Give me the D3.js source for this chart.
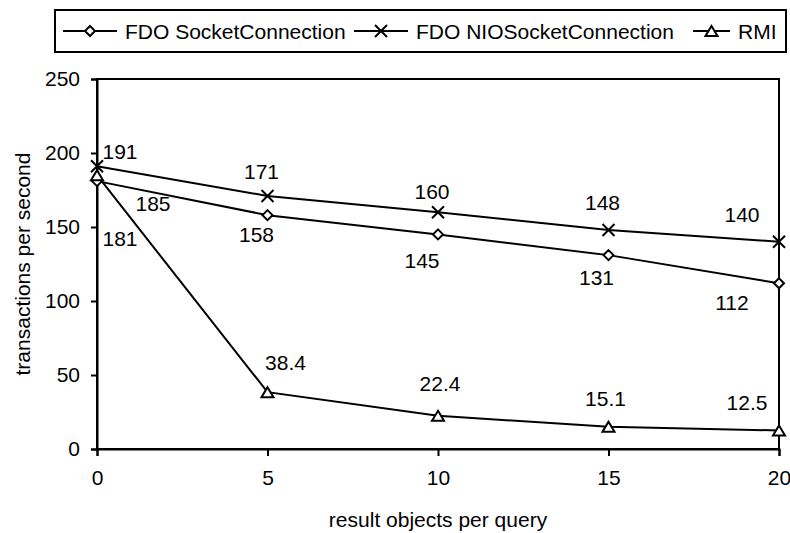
<!DOCTYPE html>
<html>
<head>
<meta charset="utf-8">
<script src="https://cdn.jsdelivr.net/npm/d3@7"></script>
<style>
  body { margin: 0; background: #fff; }
  svg text { font-family: "Liberation Sans", Arial, sans-serif; fill: #000; }
</style>
</head>
<body>
<div id="chart"></div>
<script>
var width = 790;
var height = 533;
var fontSize = 21;

// data
let xValues = [0, 5, 10, 15, 20];
let socketValues = [181, 158, 145, 131, 112];
let nioValues = [191, 171, 160, 148, 140];
let rmiValues = [185, 38.4, 22.4, 15.1, 12.5];
let seriesNames = ["FDO SocketConnection", "FDO NIOSocketConnection", "RMI"];
let yTicks = [0, 50, 100, 150, 200, 250];

// label offsets (px) from each point
let labelOffsets = {
    "FDO SocketConnection": [[23,57],[-11,19],[-16,26],[-12,22],[-47,19]],
    "FDO NIOSocketConnection": [[23,-15],[-6,-24],[-6,-21],[-6,-28],[-37,-27]],
    "RMI": [[56,28],[18,-30],[2,-32],[-3,-28],[-32,-28]]
};

let plot = {left: 97, right: 779, top: 79, bottom: 449};

let x = d3.scaleLinear().domain([0, 20]).range([plot.left, plot.right]);
let y = d3.scaleLinear().domain([0, 250]).range([plot.bottom, plot.top]);

let svg = d3.select("#chart").append("svg")
    .attr("width", width).attr("height", height);

// marker shapes
let markers = {
    "FDO SocketConnection": "M0,-5L5,0L0,5L-5,0Z",
    "FDO NIOSocketConnection": "M-6,-6L6,6M-6,6L6,-6",
    "RMI": "M0,-5L6,5L-6,5Z"
};

let series = [
    {name: seriesNames[0], values: socketValues},
    {name: seriesNames[1], values: nioValues},
    {name: seriesNames[2], values: rmiValues}
];

// plot frame
svg.append("rect")
    .attr("x", plot.left).attr("y", plot.top)
    .attr("width", plot.right - plot.left).attr("height", plot.bottom - plot.top)
    .attr("fill", "none").attr("stroke", "#000").attr("stroke-width", 2);

// axes
let xAxis = svg.append("g").attr("transform", `translate(0,${plot.bottom})`)
    .call(d3.axisBottom(x).tickValues(xValues).tickSize(7).tickPadding(14));
let yAxis = svg.append("g").attr("transform", `translate(${plot.left},0)`)
    .call(d3.axisLeft(y).tickValues(yTicks).tickSize(6).tickPadding(11));

[xAxis, yAxis].forEach(a => {
    a.select(".domain").attr("stroke-width", 2);
    a.selectAll(".tick line").attr("stroke-width", 2);
    a.selectAll(".tick text").attr("font-size", fontSize)
        .attr("font-family", '"Liberation Sans", Arial, sans-serif');
});

// axis titles
svg.append("text")
    .attr("x", (plot.left + plot.right) / 2).attr("y", 527)
    .attr("text-anchor", "middle").attr("font-size", fontSize)
    .text("result objects per query");

svg.append("text")
    .attr("transform", `translate(30,${(plot.top + plot.bottom) / 2}) rotate(-90)`)
    .attr("text-anchor", "middle").attr("font-size", fontSize)
    .text("transactions per second");

// lines
let line = d3.line().x((d, i) => x(xValues[i])).y(d => y(d));

let gSeries = svg.selectAll(".series").data(series)
    .join("g").attr("class", "series");

gSeries.append("path")
    .attr("d", d => line(d.values))
    .attr("fill", "none").attr("stroke", "#000").attr("stroke-width", 2);

gSeries.selectAll(".marker").data(d => d.values.map((v, i) => ({name: d.name, v: v, i: i})))
    .join("path")
    .attr("class", "marker")
    .attr("transform", d => `translate(${x(xValues[d.i])},${y(d.v)})`)
    .attr("d", d => markers[d.name])
    .attr("fill", "#fff").attr("stroke", "#000").attr("stroke-width", 2);

gSeries.selectAll(".label").data(d => d.values.map((v, i) => ({name: d.name, v: v, i: i})))
    .join("text")
    .attr("class", "label")
    .attr("x", d => x(xValues[d.i]) + labelOffsets[d.name][d.i][0])
    .attr("y", d => y(d.v) + labelOffsets[d.name][d.i][1])
    .attr("dy", "0.36em")
    .attr("text-anchor", "middle").attr("font-size", fontSize)
    .text(d => d.v);

// legend
let legendItems = [
    {name: seriesNames[0], x: 63, len: 54},
    {name: seriesNames[1], x: 354, len: 54},
    {name: seriesNames[2], x: 693, len: 37}
];

let legend = svg.append("g");
legend.append("rect")
    .attr("x", 55).attr("y", 10).attr("width", 731).attr("height", 42)
    .attr("fill", "#fff").attr("stroke", "#000").attr("stroke-width", 2);

let li = legend.selectAll(".legend-item").data(legendItems)
    .join("g").attr("class", "legend-item")
    .attr("transform", d => `translate(${d.x},31)`);

li.append("line")
    .attr("x1", 0).attr("x2", d => d.len)
    .attr("stroke", "#000").attr("stroke-width", 2);
li.append("path")
    .attr("transform", d => `translate(${d.len / 2},0)`)
    .attr("d", d => markers[d.name])
    .attr("fill", "#fff").attr("stroke", "#000").attr("stroke-width", 2);
li.append("text")
    .attr("x", d => d.len + 8).attr("dy", "0.36em")
    .attr("font-size", fontSize)
    .text(d => d.name);
</script>
</body>
</html>
